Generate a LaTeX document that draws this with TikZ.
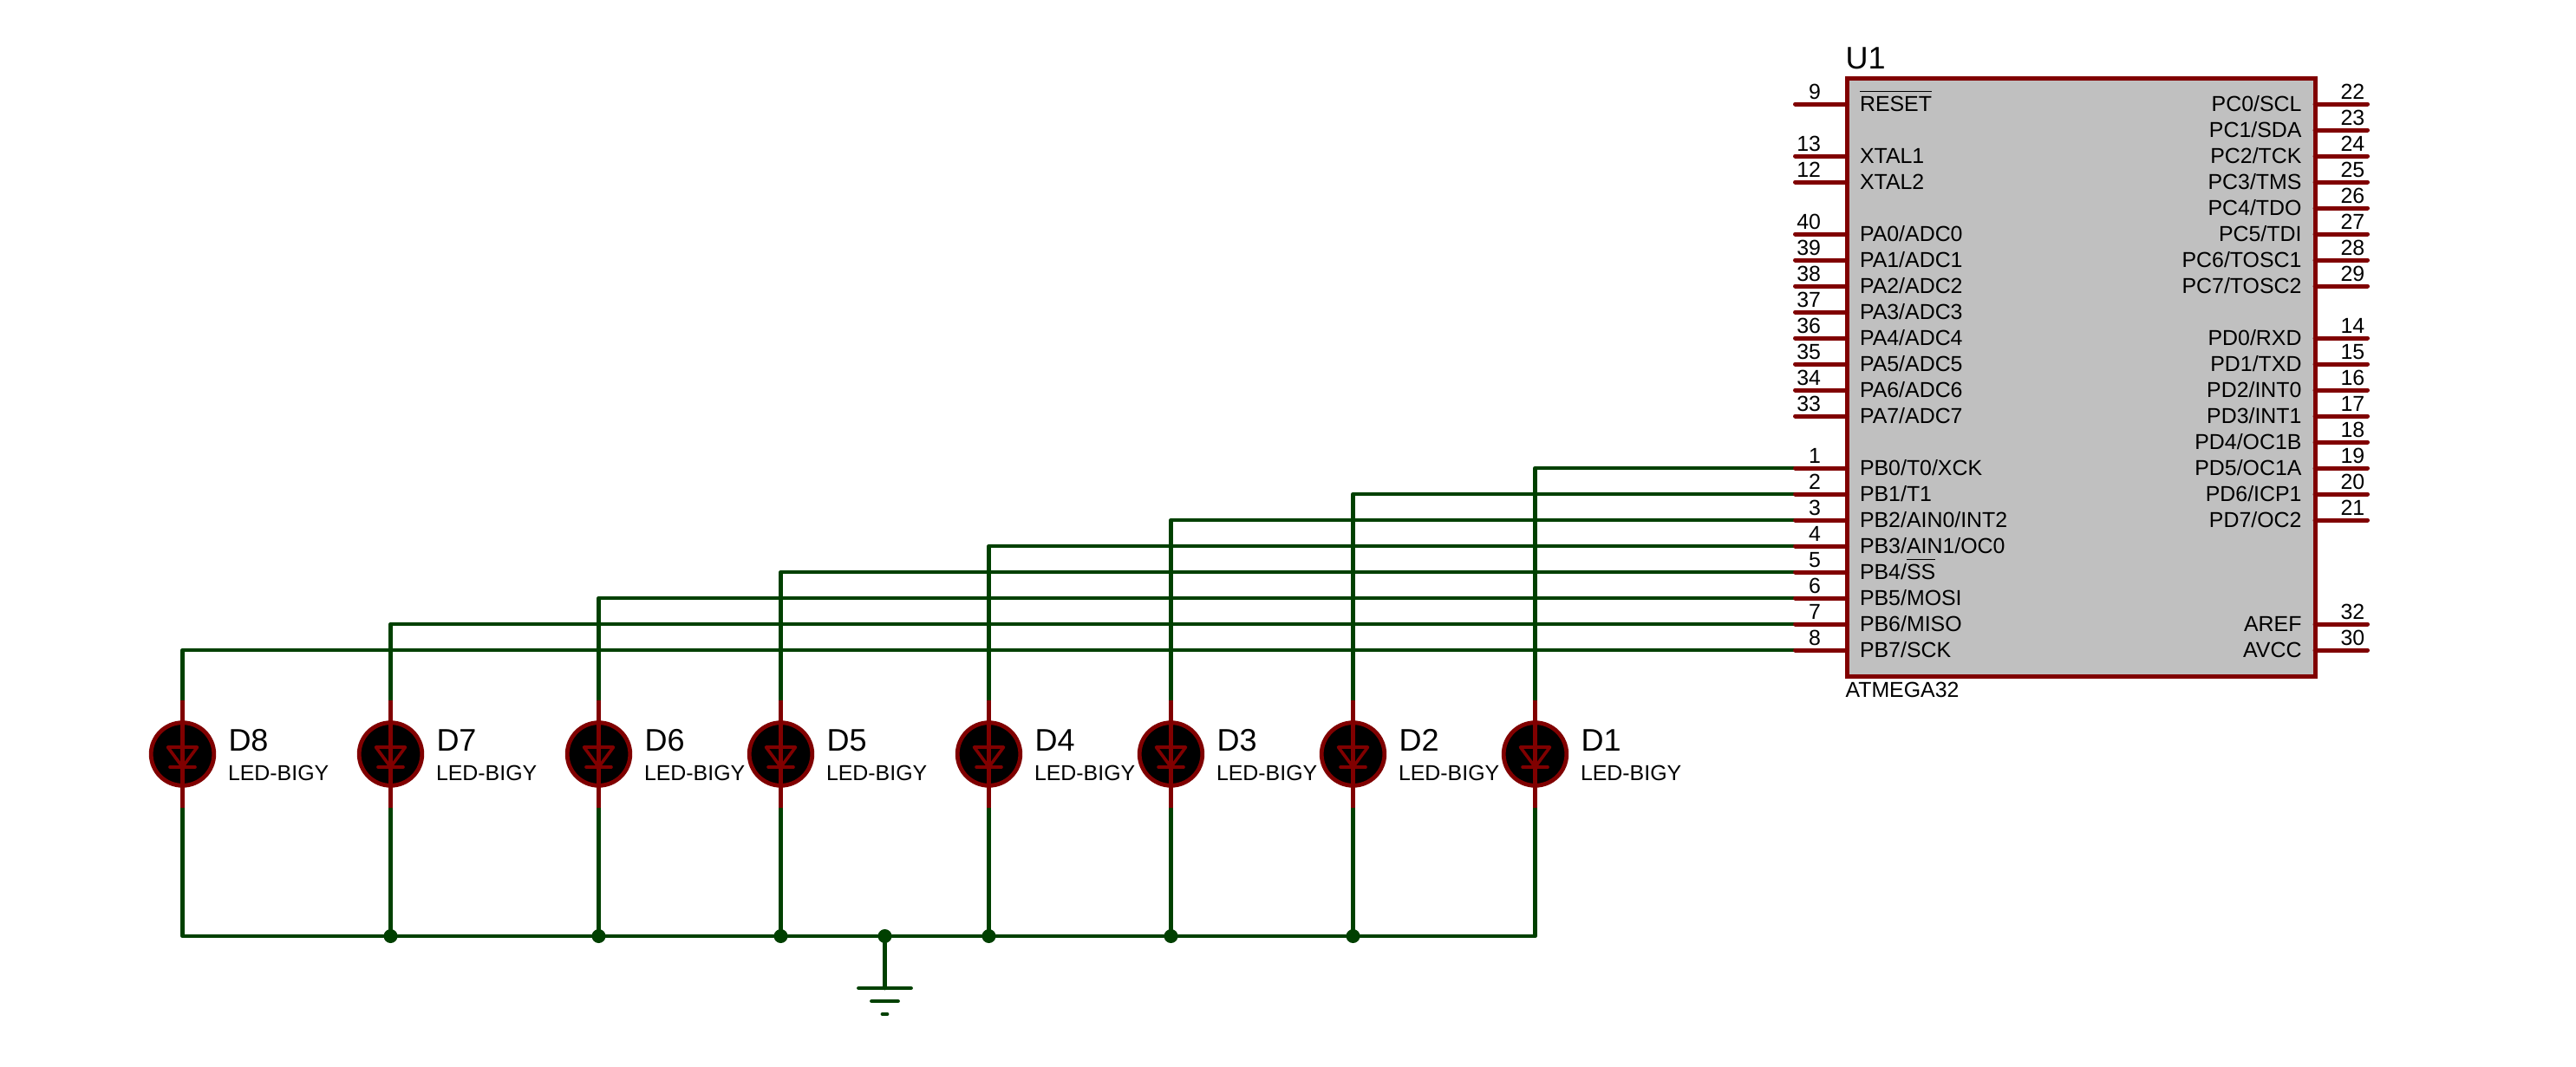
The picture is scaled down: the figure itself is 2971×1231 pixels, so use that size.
\documentclass[tikz,border=0pt]{standalone}
\usepackage{fontspec}
\setmainfont{Liberation Sans}
\definecolor{pinred}{HTML}{800000}
\definecolor{wiregreen}{HTML}{004000}
\definecolor{chipgrey}{HTML}{C0C0C0}
\newcommand{\ovlbar}[1]{\setbox0=\hbox{#1}\rlap{\raisebox{22pt}{\rule{\wd0}{1.2pt}}}\box0}
\tikzset{
  txt/.style={inner sep=0pt,outer sep=0pt,font=\fontsize{24.9pt}{26pt}\selectfont,text=black},
  lblw/.style={txt,anchor=base west},
  lble/.style={txt,anchor=base east},
  bigtxt/.style={inner sep=0pt,outer sep=0pt,anchor=base west,font=\fontsize{36pt}{38pt}\selectfont},
  pinline/.style={draw=pinred,line width=5pt,line cap=round},
  wire/.style={draw=wiregreen,line width=4.7pt,line join=round,line cap=round},
  chipbox/.style={draw=pinred,fill=chipgrey,line width=5pt,rectangle,inner sep=0pt,outer sep=0pt,minimum width=539.5pt,minimum height=690pt},
  ledbody/.style={circle,draw=pinred,fill=black,line width=4.8pt,minimum size=72.6pt,inner sep=0pt,outer sep=0pt},
  ledmark/.style={draw=pinred,line width=3.6pt,line cap=round,line join=round},
  junction/.style={circle,fill=wiregreen,inner sep=0pt,outer sep=0pt,minimum size=16pt},
  gndbar/.style={draw=wiregreen,line width=4.8pt,line cap=round},
}
\begin{document}
\begin{tikzpicture}[x=1pt,y=-1pt]
\useasboundingbox[fill=white] (0,0) rectangle (2971,1231);
% LED anchors and pin end points
\foreach \k/\x in {1/1770.5,2/1560.5,3/1350.5,4/1140.5,5/900.5,6/690.5,7/450.5,8/210.5}{
  \coordinate (A\k) at (\x,808);
  \coordinate (K\k) at (\x,932);
}
\foreach \n/\y in {9/120,13/180,12/210,40/270,39/300,38/330,37/360,36/390,35/420,34/450,33/480,1/540,2/570,3/600,4/630,5/660,6/690,7/720,8/750}{
  \coordinate (p\n) at (2070.5,\y);
}
\foreach \n/\y in {22/120,23/150,24/180,25/210,26/240,27/270,28/300,29/330,14/390,15/420,16/450,17/480,18/510,19/540,20/570,21/600,32/720,30/750}{
  \coordinate (p\n) at (2730.5,\y);
}
% wires from port B to the LEDs
\foreach \n/\k in {1/1,2/2,3/3,4/4,5/5,6/6,7/7,8/8}{
  \draw[wire] (p\n) -| (A\k);
}
% common return
\coordinate (gndtop) at (1020.5,1080);
\coordinate (gndbot) at (1020.5,1140);
\draw[wire] (K8) |- (gndtop);
\draw[wire] (K1) |- (gndtop);
\foreach \k in {2,3,4,5,6,7}{
  \draw[wire] (K\k) -- (K\k |- gndtop);
  \node[junction] (J\k) at (K\k |- gndtop) {};
}
\node[junction] (Jg) at (gndtop) {};
\draw[wire] (Jg) -- (gndbot);
\coordinate (g1l) at (990.5,1140);  \coordinate (g1r) at (1050.5,1140);
\coordinate (g2l) at (1005.5,1155); \coordinate (g2r) at (1035.5,1155);
\coordinate (g3l) at (1018,1170);   \coordinate (g3r) at (1023,1170);
\draw[gndbar] (g1l) -- (g1r);
\draw[gndbar] (g2l) -- (g2r);
\draw[gndbar] (g3l) -- (g3r);
% LEDs
\foreach \k/\x in {1/1770.5,2/1560.5,3/1350.5,4/1140.5,5/900.5,6/690.5,7/450.5,8/210.5}{
  \node[ledbody] (D\k) at (\x,870) {};
  \draw[pinline,line cap=butt] (A\k) -- (K\k);
  \draw[ledmark] (\x-17,862) -- (\x+17,862) -- (\x,885) -- cycle;
  \draw[ledmark] (\x-14.5,885) -- (\x+14.5,885);
  \node[bigtxt] (name\k) at (\x+53,866) {D\k};
  \node[lblw] (type\k) at (\x+52.5,900) {LED-BIGY};
}
% chip pins
\node[chipbox] (chip) at (2400.25,435) {};
\foreach \n/\y in {9/120,13/180,12/210,40/270,39/300,38/330,37/360,36/390,35/420,34/450,33/480,1/540,2/570,3/600,4/630,5/660,6/690,7/720,8/750}{
  \draw[pinline] (p\n) -- (p\n -| chip.west);
  \node[lble] (n\n) at (2100,\y-6) {\n};
}
\foreach \n/\y in {22/120,23/150,24/180,25/210,26/240,27/270,28/300,29/330,14/390,15/420,16/450,17/480,18/510,19/540,20/570,21/600,32/720,30/750}{
  \draw[pinline] (p\n) -- (p\n -| chip.east);
  \node[lblw] (n\n) at (2699.5,\y-6) {\n};
}
% chip texts
\node[bigtxt] (refU) at (2128.5,79) {U1};
\node[lblw] (partU) at (2128.5,804) {ATMEGA32};
\foreach \y/\t in {120/{\ovlbar{RESET}},180/XTAL1,210/XTAL2,270/PA0\slash ADC0,300/PA1\slash ADC1,330/PA2\slash ADC2,360/PA3\slash ADC3,390/PA4\slash ADC4,420/PA5\slash ADC5,450/PA6\slash ADC6,480/PA7\slash ADC7,540/PB0\slash T0\slash XCK,570/PB1\slash T1,600/PB2\slash AIN0\slash INT2,630/PB3\slash AIN1\slash OC0,660/{PB4/\ovlbar{SS}},690/PB5\slash MOSI,720/PB6\slash MISO,750/PB7\slash SCK}{
  \node[lblw] (L\y) at (2145,\y+8) {\t};
}
\foreach \y/\t in {120/PC0\slash SCL,150/PC1\slash SDA,180/PC2\slash TCK,210/PC3\slash TMS,240/PC4\slash TDO,270/PC5\slash TDI,300/PC6\slash TOSC1,330/PC7\slash TOSC2,390/PD0\slash RXD,420/PD1\slash TXD,450/PD2\slash INT0,480/PD3\slash INT1,510/PD4\slash OC1B,540/PD5\slash OC1A,570/PD6\slash ICP1,600/PD7\slash OC2,720/AREF,750/AVCC}{
  \node[lble] (R\y) at (2654.5,\y+8) {\t};
}
\end{tikzpicture}
\end{document}
